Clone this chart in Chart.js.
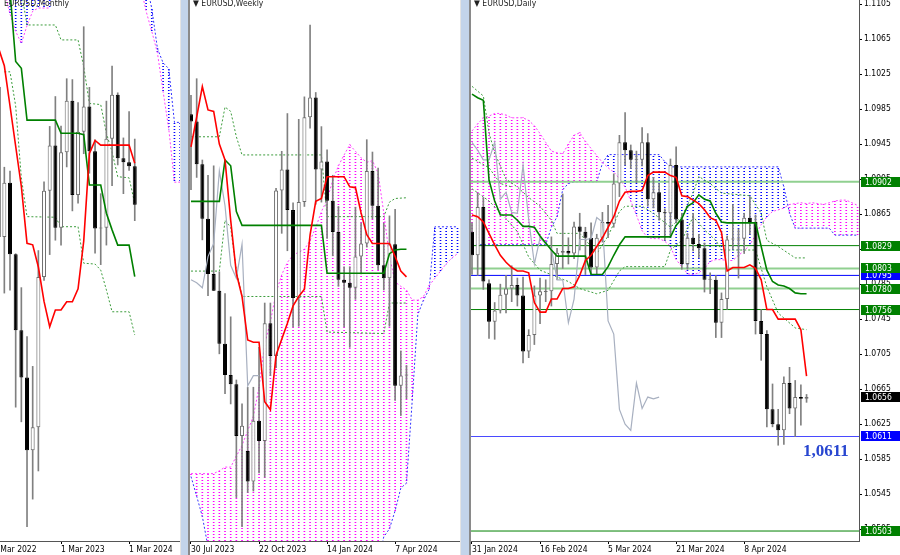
<!DOCTYPE html>
<html>
<head>
<meta charset="utf-8">
<script src="https://cdn.jsdelivr.net/npm/chart.js@4.4.1/dist/chart.umd.min.js"></script>
<style>
  body { margin: 0; background: #fff; }
  #wrap { position: relative; width: 900px; height: 555px; overflow: hidden; background: #fff; }
  canvas { position: absolute; top: 0; }
  .split { position: absolute; top: 0; height: 555px; background: #c3d4ea; border-left: 1px solid #e4e4e4; border-right: 2px solid #8a8a8a; box-sizing: border-box; }
  .ttl { position: absolute; top: -2px; font: 8.5px "DejaVu Sans Condensed", "Liberation Sans", sans-serif; color: #222; white-space: nowrap; }
  .big { position: absolute; left: 803px; top: 441px; font: bold 17px "Liberation Serif", "DejaVu Serif", serif; color: #2846d0; }
</style>
</head>
<body>
<div id="wrap">
  <canvas id="cM" width="180" height="555" style="left:0"></canvas>
  <div class="split" style="left:180px;width:10px"></div>
  <canvas id="cW" width="270" height="555" style="left:190px"></canvas>
  <div class="split" style="left:460px;width:11px"></div>
  <canvas id="cD" width="429" height="555" style="left:471px"></canvas>
  <div class="ttl" style="left:4px">EURUSD,Monthly</div>
  <div class="ttl" style="left:193px">▼ EURUSD,Weekly</div>
  <div class="ttl" style="left:474px">▼ EURUSD,Daily</div>
  <div class="big">1,0611</div>
</div>
<script>
// ---------- Monthly: 1 Mar 2022 .. Apr 2024 (index 0 = Mar 2022) ----------
const mOpen  = [1.1218,1.1067,1.0544,1.0733,1.0484,1.0220,1.0055,0.9802,0.9882,1.0405,1.0705,1.0863,1.0576,1.0839,1.1018,1.0690,1.0910,1.0998,1.0843,1.0574,1.0576,1.0886,1.1039,1.0818,1.0804,1.0790];
const mHigh  = [1.1233,1.1076,1.0787,1.0774,1.0486,1.0368,1.0198,1.0094,1.0497,1.0736,1.0929,1.1033,1.0930,1.1095,1.1092,1.1012,1.1276,1.1065,1.0882,1.0695,1.1017,1.1139,1.1046,1.0889,1.0981,1.0885];
const mLow   = [1.0806,1.0471,1.0349,1.0359,0.9952,0.9901,0.9536,0.9632,0.9730,1.0393,1.0483,1.0533,1.0516,1.0788,1.0635,1.0662,1.0834,1.0766,1.0488,1.0448,1.0516,1.0723,1.0795,1.0695,1.0776,1.0601];
const mClose = [1.1067,1.0544,1.0733,1.0484,1.0220,1.0055,0.9802,0.9882,1.0405,1.0705,1.0863,1.0576,1.0839,1.1018,1.0690,1.0910,1.0998,1.0843,1.0574,1.0576,1.0886,1.1039,1.0818,1.0804,1.0790,1.0656];
const mTenkan = [1.1250,1.1200,1.1140,1.1000,1.0860,1.0720,1.0522,1.0517,1.0440,1.0320,1.0232,1.0290,1.0290,1.0319,1.0319,1.0364,1.0530,1.0835,1.0880,1.0864,1.0864,1.0864,1.0864,1.0864,1.0864,1.0801];
const mKijun  = [1.1600,1.1550,1.1500,1.1400,1.1155,1.1131,1.0951,1.0951,1.0951,1.0951,1.0951,1.0951,1.0905,1.0905,1.0905,1.0905,1.0900,1.0725,1.0725,1.0725,1.0627,1.0569,1.0516,1.0516,1.0516,1.0406];
const mSpanA = [null,null,1.1400,1.1320,1.1260,1.1218,1.1280,1.1330,1.1341,1.1341,1.1341,
  null,null,null,null,null,null,null,null,null,null,null,null,null,null,null,
  1.1420,1.1330,1.1260,1.1185,1.1050,1.0920,1.0735,1.0735];
const mSpanB = [null,null,1.1420,1.1420,1.1420,1.1420,1.1420,1.1420,1.1420,1.1420,1.1420,
  null,null,null,null,null,null,null,null,null,null,null,null,null,null,null,
  1.1500,1.1430,1.1340,1.1200,1.1150,1.1130,1.0943,1.0943];
const mDotUpper = [[5,1.1400],[6,1.1282],[11,1.1282],[12,1.1230],[15,1.1230],[16,1.1137],[17,1.1009],[19,1.1005],[20,1.0905],[21,1.0840],[22,1.0754],[24,1.0750],[25,1.0661]];
const mDotLower = [[2,1.1119],[3,1.1119],[4,1.1000],[5,1.0750],[6,1.0615],[11,1.0613],[12,1.0580],[15,1.0580],[16,1.0453],[18,1.0450],[19,1.0429],[20,1.0360],[21,1.0284],[24,1.0284],[25,1.0203]];
const mTickIdx  = [0, 12, 24];
const mTickText = ['1 Mar 2022', '1 Mar 2023', '1 Mar 2024'];

// ---------- Weekly: 30 Jul 2023 .. 21 Apr 2024 ----------
const wOpen  = [1.1016,1.1006,1.0947,1.0872,1.0796,1.0773,1.0700,1.0657,1.0644,1.0573,1.0552,1.0510,1.0594,1.0566,1.0728,1.0683,1.0911,1.0940,1.0884,1.0763,1.0895,1.1012,1.1039,1.0940,1.0951,1.0897,1.0854,1.0788,1.0784,1.0777,1.0820,1.0838,1.0938,1.0890,1.0808,1.0790,1.0837,1.0642,1.0656];
const wHigh  = [1.1042,1.1065,1.0953,1.0932,1.0945,1.0799,1.0769,1.0737,1.0650,1.0617,1.0640,1.0640,1.0695,1.0756,1.0756,1.0914,1.0965,1.1017,1.0894,1.1009,1.1040,1.1139,1.1046,1.0999,1.0967,1.0932,1.0889,1.0806,1.0806,1.0888,1.0866,1.0981,1.0964,1.0942,1.0866,1.0876,1.0885,1.0690,1.0670];
const wLow   = [1.0912,1.0929,1.0843,1.0766,1.0773,1.0686,1.0631,1.0617,1.0488,1.0448,1.0495,1.0497,1.0522,1.0516,1.0656,1.0667,1.0852,1.0828,1.0723,1.0724,1.0889,1.0997,1.0892,1.0895,1.0845,1.0821,1.0779,1.0723,1.0695,1.0761,1.0796,1.0833,1.0872,1.0802,1.0774,1.0724,1.0622,1.0601,1.0624];
const wClose = [1.1006,1.0947,1.0872,1.0796,1.0773,1.0700,1.0657,1.0644,1.0573,1.0587,1.0510,1.0594,1.0566,1.0728,1.0683,1.0911,1.0940,1.0884,1.0763,1.0895,1.1012,1.1039,1.0940,1.0951,1.0897,1.0854,1.0788,1.0784,1.0777,1.0820,1.0838,1.0938,1.0890,1.0808,1.0790,1.0837,1.0642,1.0656,1.0656];
const wTenkan = [1.0971,1.1012,1.1054,1.1022,1.1020,1.0975,1.0953,1.0870,1.0797,1.0765,1.0705,1.0702,1.0702,1.0620,1.0609,1.0684,1.0706,1.0728,1.0752,1.0765,1.0775,1.0850,1.0896,1.0900,1.0930,1.0930,1.0930,1.0930,1.0916,1.0915,1.0880,1.0850,1.0838,1.0838,1.0838,1.0838,1.0820,1.0800,1.0792];
const wKijun  = [1.0896,1.0896,1.0896,1.0896,1.0896,1.0896,1.0953,1.0945,1.0882,1.0863,1.0863,1.0863,1.0863,1.0863,1.0863,1.0863,1.0863,1.0863,1.0863,1.0863,1.0863,1.0863,1.0863,1.0863,1.0797,1.0797,1.0797,1.0797,1.0797,1.0797,1.0797,1.0797,1.0797,1.0797,1.0797,1.0824,1.0829,1.0830,1.0830];
const wChikou = [1.0788,1.0784,1.0777,1.0820,1.0838,1.0938,1.0890,1.0808,1.0790,1.0837,1.0642,1.0656,1.0656];
const wSpanA = [1.0521,1.0521,1.0521,1.0521,1.0521,1.0525,1.0530,1.0530,1.0545,1.0560,1.0580,1.0600,1.0640,1.0700,1.0730,1.0770,1.0795,1.0812,1.0822,1.0826,1.0830,1.0842,1.0860,1.0882,1.0898,1.0925,1.0945,1.0960,1.0974,1.0965,1.0956,1.0950,1.0952,1.0935,1.0880,1.0820,1.0785,1.0779,1.0774,1.0760,1.0760,1.0765,1.0780,1.0790,1.0800,1.0810,1.0818,1.0824];
const wSpanB = [1.0517,1.0490,1.0462,1.0420,1.0400,1.0400,1.0400,1.0400,1.0400,1.0400,1.0400,1.0400,1.0400,1.0400,1.0400,1.0400,1.0400,1.0400,1.0400,1.0400,1.0400,1.0400,1.0400,1.0400,1.0400,1.0400,1.0400,1.0400,1.0400,1.0400,1.0400,1.0400,1.0400,1.0400,1.0434,1.0445,1.0470,1.0501,1.0508,1.0620,1.0740,1.0760,1.0775,1.0861,1.0861,1.0861,1.0861,1.0861];
const wDotUpper = [[0,1.0985],[5,1.0985],[6,1.1026],[7,1.1020],[8,1.0985],[9,1.0960],[23,1.0960],[24,1.0875],[34,1.0875],[35,1.0895],[36,1.0900],[38,1.0901]];
const wDotLower = [[0,1.0800],[5,1.0800],[6,1.0870],[7,1.0860],[8,1.0801],[9,1.0765],[23,1.0765],[24,1.0716],[34,1.0714],[35,1.0756],[38,1.0756]];
const wTickIdx  = [0, 12, 24, 36];
const wTickText = ['30 Jul 2023', '22 Oct 2023', '14 Jan 2024', '7 Apr 2024'];

// ---------- Daily: 31 Jan 2024 .. 23 Apr 2024 ----------
const dOpen  = [1.0845,1.0818,1.0873,1.0786,1.0742,1.0755,1.0773,1.0780,1.0784,1.0772,1.0708,1.0727,1.0772,1.0776,1.0777,1.0808,1.0821,1.0823,1.0820,1.0851,1.0845,1.0838,1.0804,1.0838,1.0856,1.0854,1.0900,1.0947,1.0938,1.0927,1.0927,1.0947,1.0882,1.0890,1.0867,1.0866,1.0921,1.0859,1.0808,1.0838,1.0831,1.0826,1.0790,1.0790,1.0741,1.0768,1.0836,1.0836,1.0837,1.0861,1.0856,1.0743,1.0728,1.0642,1.0625,1.0618,1.0672,1.0643,1.0656,1.0654];
const dHigh  = [1.0855,1.0889,1.0884,1.0790,1.0764,1.0785,1.0795,1.0806,1.0792,1.0793,1.0733,1.0783,1.0792,1.0790,1.0839,1.0826,1.0888,1.0838,1.0856,1.0866,1.0850,1.0855,1.0842,1.0867,1.0875,1.0911,1.0955,1.0981,1.0944,1.0937,1.0964,1.0957,1.0907,1.0900,1.0871,1.0928,1.0942,1.0866,1.0843,1.0866,1.0842,1.0832,1.0798,1.0795,1.0775,1.0840,1.0876,1.0848,1.0866,1.0885,1.0864,1.0756,1.0732,1.0671,1.0642,1.0679,1.0690,1.0675,1.0670,1.0659];
const dLow   = [1.0796,1.0795,1.0779,1.0723,1.0722,1.0752,1.0752,1.0765,1.0760,1.0695,1.0701,1.0716,1.0740,1.0765,1.0760,1.0790,1.0803,1.0808,1.0814,1.0824,1.0796,1.0796,1.0796,1.0833,1.0838,1.0850,1.0885,1.0921,1.0917,1.0901,1.0920,1.0874,1.0872,1.0858,1.0835,1.0839,1.0855,1.0802,1.0802,1.0823,1.0815,1.0776,1.0774,1.0724,1.0724,1.0756,1.0825,1.0792,1.0820,1.0842,1.0728,1.0698,1.0622,1.0622,1.0601,1.0602,1.0637,1.0611,1.0624,1.0650];
const dClose = [1.0818,1.0873,1.0788,1.0742,1.0755,1.0773,1.0780,1.0784,1.0772,1.0708,1.0727,1.0772,1.0777,1.0777,1.0808,1.0821,1.0823,1.0820,1.0851,1.0845,1.0838,1.0804,1.0838,1.0856,1.0854,1.0900,1.0947,1.0938,1.0927,1.0927,1.0947,1.0882,1.0890,1.0867,1.0866,1.0921,1.0859,1.0808,1.0838,1.0831,1.0826,1.0790,1.0790,1.0741,1.0768,1.0836,1.0836,1.0837,1.0861,1.0856,1.0743,1.0728,1.0642,1.0625,1.0618,1.0672,1.0643,1.0656,1.0654,1.0656];
const dTenkan = [1.0864,1.0862,1.0856,1.0843,1.0830,1.0818,1.0810,1.0804,1.0800,1.0800,1.0798,1.0764,1.0753,1.0753,1.0768,1.0768,1.0780,1.0780,1.0782,1.0795,1.0812,1.0818,1.0828,1.0838,1.0850,1.0862,1.0880,1.0890,1.0891,1.0891,1.0892,1.0909,1.0913,1.0913,1.0913,1.0909,1.0907,1.0886,1.0885,1.0881,1.0877,1.0870,1.0861,1.0858,1.0844,1.0800,1.0804,1.0804,1.0804,1.0807,1.0803,1.0790,1.0756,1.0756,1.0745,1.0745,1.0745,1.0745,1.0733,1.0680];
const dKijun  = [1.1002,1.0998,1.0995,1.0904,1.0880,1.0864,1.0864,1.0864,1.0858,1.0851,1.0851,1.0850,1.0840,1.0832,1.0824,1.0817,1.0817,1.0817,1.0817,1.0817,1.0817,1.0796,1.0796,1.0796,1.0805,1.0818,1.0830,1.0839,1.0839,1.0839,1.0839,1.0839,1.0839,1.0839,1.0839,1.0839,1.0852,1.0860,1.0874,1.0878,1.0887,1.0882,1.0880,1.0866,1.0856,1.0855,1.0855,1.0855,1.0855,1.0855,1.0855,1.0828,1.0801,1.0788,1.0784,1.0783,1.0780,1.0775,1.0774,1.0774];
const dChikou = [1.0947,1.0938,1.0927,1.0927,1.0947,1.0882,1.0890,1.0867,1.0866,1.0921,1.0859,1.0808,1.0838,1.0831,1.0826,1.0790,1.0790,1.0741,1.0768,1.0836,1.0836,1.0837,1.0861,1.0856,1.0743,1.0728,1.0642,1.0625,1.0618,1.0672,1.0643,1.0656,1.0654,1.0656];
const dSpanA = [1.0960,1.0968,1.0975,1.0977,1.0980,1.0980,1.0978,1.0975,1.0975,1.0975,1.0972,1.0966,1.0957,1.0947,1.0937,1.0935,1.0934,1.0945,1.0955,1.0958,1.0948,1.0940,1.0932,1.0924,1.0918,1.0913,1.0906,1.0896,1.0880,1.0864,1.0846,1.0838,1.0837,1.0837,1.0834,1.0828,1.0813,1.0805,1.0797,1.0796,1.0798,1.0803,1.0811,1.0813,1.0813,1.0812,1.0812,1.0818,1.0823,1.0830,1.0841,1.0853,1.0862,1.0868,1.0870,1.0872,1.0876,1.0877,1.0878,1.0877,1.0878,1.0877,1.0876,1.0878,1.0880,1.0881,1.0881,1.0878,1.0875];
const dSpanB = [1.0830,1.0830,1.0830,1.0830,1.0830,1.0830,1.0830,1.0830,1.0830,1.0830,1.0830,1.0830,1.0830,1.0830,1.0850,1.0862,1.0893,1.0900,1.0902,1.0902,1.0902,1.0902,1.0902,1.0923,1.0933,1.0933,1.0933,1.0933,1.0933,1.0933,1.0933,1.0933,1.0933,1.0933,1.0925,1.0919,1.0919,1.0919,1.0919,1.0919,1.0919,1.0919,1.0919,1.0919,1.0919,1.0919,1.0919,1.0919,1.0919,1.0919,1.0919,1.0919,1.0919,1.0919,1.0919,1.0896,1.0866,1.0849,1.0849,1.0849,1.0849,1.0849,1.0849,1.0849,1.0841,1.0841,1.0841,1.0841,1.0841];
const dDotUpper = [[0,1.1011],[2,1.1000],[3,1.0958],[4,1.0935],[6,1.0905],[8,1.0896],[10,1.0884],[12,1.0874],[14,1.0858],[15,1.0843],[19,1.0843],[21,1.0828],[22,1.0820],[24,1.0840],[26,1.0868],[27,1.0874],[30,1.0874],[32,1.0866],[35,1.0850],[37,1.0862],[39,1.0889],[40,1.0908],[42,1.0900],[44,1.0889],[49,1.0886],[51,1.0866],[52,1.0835],[54,1.0828],[57,1.0815],[59,1.0815]];
const dDotMid   = [[0,1.0929],[3,1.0918],[5,1.0900],[7,1.0896]];
const dDotLower = [[0,1.0894],[3,1.0880],[6,1.0860],[8,1.0845],[10,1.0816],[12,1.0801],[17,1.0788],[19,1.0780],[21,1.0776],[22,1.0774],[24,1.0778],[26,1.0800],[27,1.0805],[34,1.0805],[35,1.0824],[37,1.0835],[39,1.0862],[41,1.0847],[43,1.0835],[44,1.0824],[50,1.0824],[52,1.0782],[54,1.0752],[57,1.0735],[59,1.0733]];
const dLevels = [1.0902, 1.0829, 1.0803, 1.0795, 1.0780, 1.0756, 1.0611, 1.0503];
const dPriceNow = 1.0656;
const dTickIdx  = [0, 12, 24, 36, 48];
const dTickText = ['31 Jan 2024', '16 Feb 2024', '5 Mar 2024', '21 Mar 2024', '8 Apr 2024'];
const dPriceTicks = [1.0505,1.0545,1.0585,1.0625,1.0665,1.0705,1.0745,1.0785,1.0825,1.0865,1.0905,1.0945,1.0985,1.1025,1.1065,1.1105];

// styles (kept apart from the values)
const LIGHT_G = '#90d090', DARK_G = '#008000', BLUE = '#0000ff';
const dLevelStyle = [[LIGHT_G, 2], [DARK_G, 1], [LIGHT_G, 2], [BLUE, 1], [LIGHT_G, 2], [DARK_G, 1], ['#4a4aff', 1.2], [DARK_G, 1]];
const FONT = '"DejaVu Sans Condensed", "Liberation Sans", sans-serif';
const TICK_FONT = { family: FONT, size: 8.5 };

function pts(arr) { return arr.map((v, i) => ({ x: i, y: v })); }
function pairs(arr) { return arr.map(p => ({ x: p[0], y: p[1] })); }

// dotted hatch for the cloud columns
function dots(color) {
  const c = document.createElement('canvas');
  c.width = 1; c.height = 3;
  const g = c.getContext('2d');
  g.fillStyle = color;
  g.fillRect(0, 0, 1, 1);
  return g.createPattern(c, 'repeat');
}

function lineSet(data, color, width, dash, order) {
  return { type: 'line', data, borderColor: color, borderWidth: width, borderDash: dash,
    pointRadius: 0, tension: 0, fill: false, spanGaps: false, order };
}

function panel(p) {
  const ds = [];
  const up = [], dn = [];
  p.spanA.forEach((a, i) => {
    const b = p.spanB[i];
    if (a == null || b == null) return;
    (a >= b ? up : dn).push({ x: i, y: [Math.min(a, b), Math.max(a, b)] });
  });
  ds.push({ type: 'bar', data: up, backgroundColor: dots('#ff00ff'), barThickness: 1, grouped: false, borderWidth: 0, order: 9 });
  ds.push({ type: 'bar', data: dn, backgroundColor: dots('#0000ff'), barThickness: 1, grouped: false, borderWidth: 0, order: 9 });
  ds.push(lineSet(pts(p.spanA), '#ff40ff', 1, [2, 2], 8));
  ds.push(lineSet(pts(p.spanB), '#3030ff', 1, [2, 2], 8));

  (p.levels || []).forEach((v, k) => {
    ds.push(lineSet([{ x: p.xMin, y: v }, { x: p.xMax, y: v }], p.levelStyle[k][0], p.levelStyle[k][1], [], 7));
  });
  p.dotted.forEach(d => ds.push(lineSet(pairs(d), '#3c9c3c', 1, [2, 2], 6)));

  // candles: wick + body
  ds.push({ type: 'bar', data: p.low.map((l, i) => ({ x: i, y: [l, p.high[i]] })),
    backgroundColor: '#808080', barThickness: 1, grouped: false, borderWidth: 0, order: 5 });
  ds.push({ type: 'bar',
    data: p.open.map((o, i) => ({ x: i, y: [Math.min(o, p.close[i]), Math.max(o, p.close[i])] })),
    backgroundColor: c => p.close[c.dataIndex] >= p.open[c.dataIndex] ? '#ffffff' : '#000000',
    borderColor: c => p.close[c.dataIndex] >= p.open[c.dataIndex] ? '#6e6e6e' : '#000000',
    borderWidth: 1, borderSkipped: false, barThickness: 4, minBarLength: 1,
    grouped: false, inflateAmount: 0, order: 4 });

  ds.push(lineSet(pts(p.chikou), '#a8b0c0', 1.2, [], 3));
  ds.push(lineSet(pts(p.kijun), '#008000', 1.6, [], 2));
  ds.push(lineSet(pts(p.tenkan), '#ff0000', 1.6, [], 1));

  const axisW = p.yTicks ? 41 : 0;
  return new Chart(document.getElementById(p.id), {
    type: 'bar',
    data: { datasets: ds },
    options: {
      responsive: false,
      animation: false,
      events: [],
      layout: { padding: 0 },
      plugins: { legend: { display: false }, tooltip: { enabled: false } },
      scales: {
        x: {
          type: 'linear', min: p.xMin, max: p.xMax, offset: false,
          grid: { drawOnChartArea: false, drawTicks: true, tickLength: 3, color: '#000', offset: false },
          border: { display: true, color: '#555' },
          ticks: { autoSkip: false, maxRotation: 0, minRotation: 0, align: 'start', padding: 1,
            color: '#000', font: TICK_FONT, callback: (v, i) => p.tickText[i] },
          afterBuildTicks: s => { s.ticks = p.tickIdx.map(v => ({ value: v })); },
          afterFit: s => { s.height = 14; s.paddingLeft = 0; s.paddingRight = 0; }
        },
        y: {
          type: 'linear', min: p.yMin, max: p.yMax, display: !!p.yTicks, position: 'right',
          grid: { drawOnChartArea: false, tickLength: 3, color: '#000' },
          border: { display: true, color: '#555' },
          ticks: { padding: 2, color: '#000', font: TICK_FONT, callback: v => Number(v).toFixed(4) },
          afterBuildTicks: s => { if (p.yTicks) s.ticks = p.yTicks.map(v => ({ value: v })); },
          afterFit: s => { s.width = axisW; s.paddingTop = 0; s.paddingBottom = 0; }
        }
      }
    },
    plugins: p.plugins || []
  });
}

// price boxes on the daily price scale
const boxValues = [1.0902, 1.0829, 1.0795, 1.0803, 1.0780, 1.0756, dPriceNow, 1.0611, 1.0503];
const boxColors = [DARK_G, DARK_G, BLUE, DARK_G, DARK_G, DARK_G, '#000000', BLUE, DARK_G];
const priceBoxes = {
  id: 'priceBoxes',
  afterDraw(chart) {
    const { ctx, chartArea, scales } = chart;
    ctx.save();
    ctx.font = '8.5px ' + FONT;
    ctx.textBaseline = 'middle';
    boxValues.forEach((v, k) => {
      const py = Math.round(scales.y.getPixelForValue(v));
      ctx.fillStyle = boxColors[k];
      ctx.fillRect(chartArea.right + 2, py - 5, 40, 10);
      ctx.fillStyle = '#ffffff';
      ctx.fillText(v.toFixed(4), chartArea.right + 6, py + 0.5);
    });
    ctx.restore();
  }
};

panel({
  id: 'cM', xMin: 1.235, xMax: 32.98, yMin: 0.94863, yMax: 1.13689,
  open: mOpen, high: mHigh, low: mLow, close: mClose,
  tenkan: mTenkan, kijun: mKijun, chikou: [], spanA: mSpanA, spanB: mSpanB,
  dotted: [mDotUpper, mDotLower], tickIdx: mTickIdx, tickText: mTickText
});

panel({
  id: 'cW', xMin: -0.176, xMax: 47.44, yMin: 1.04282, yMax: 1.11734,
  open: wOpen, high: wHigh, low: wLow, close: wClose,
  tenkan: wTenkan, kijun: wKijun, chikou: wChikou, spanA: wSpanA, spanB: wSpanB,
  dotted: [wDotUpper, wDotLower], tickIdx: wTickIdx, tickText: wTickText
});

panel({
  id: 'cD', xMin: -0.176, xMax: 68.25, yMin: 1.04916, yMax: 1.11096,
  open: dOpen, high: dHigh, low: dLow, close: dClose,
  tenkan: dTenkan, kijun: dKijun, chikou: dChikou, spanA: dSpanA, spanB: dSpanB,
  dotted: [dDotUpper, dDotMid, dDotLower], levels: dLevels, levelStyle: dLevelStyle,
  tickIdx: dTickIdx, tickText: dTickText, yTicks: dPriceTicks, plugins: [priceBoxes]
});
</script>
</body>
</html>
